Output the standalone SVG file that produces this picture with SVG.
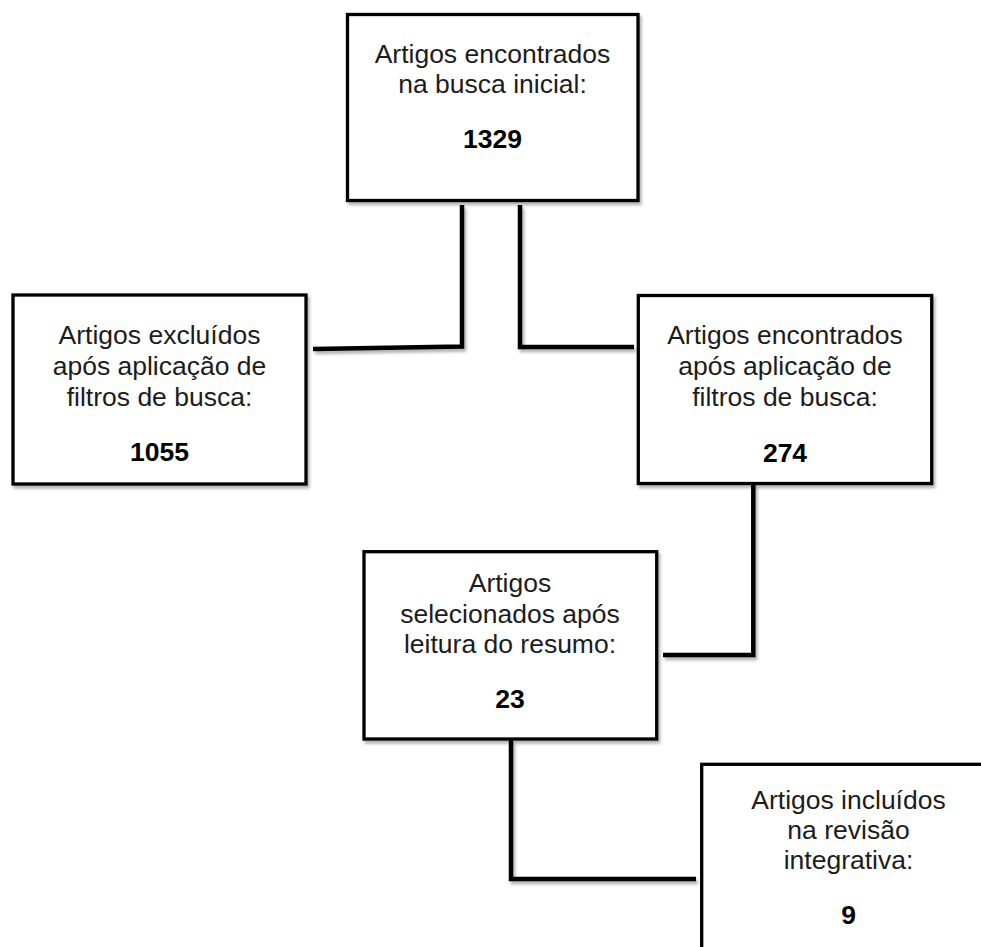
<svg xmlns="http://www.w3.org/2000/svg" width="981" height="947" viewBox="0 0 981 947">
  <defs>
    <filter id="sh" x="-10%" y="-10%" width="130%" height="130%">
      <feDropShadow dx="2" dy="3" stdDeviation="1.8" flood-color="#000" flood-opacity="0.3"/>
    </filter>
    <style>
      .box { fill: #ffffff; stroke: #000; stroke-width: 3.3; filter: url(#sh); }
      .lbl { font-family: "Liberation Sans", Arial, sans-serif; font-size: 26.5px; fill: #1c1c1c; text-anchor: middle; }
      .num { font-family: "Liberation Sans", Arial, sans-serif; font-size: 26.5px; font-weight: bold; fill: #000; text-anchor: middle; }
      .con { fill: none; stroke: #000; stroke-width: 4.5; stroke-linejoin: miter; stroke-linecap: butt; filter: url(#sh); }
    </style>
  </defs>
  <rect width="981" height="947" fill="#ffffff"/>

  <g id="connectors">
    <polyline class="con" points="462,205 462,346.5 313,349"/>
    <polyline class="con" points="520,205 520,347 634,347"/>
    <polyline class="con" points="753.3,484 753.3,655 663,655"/>
    <polyline class="con" points="511,740 511,879 696,879"/>
  </g>

  <g id="n-inicial">
    <rect class="box" x="347.5" y="14.5" width="290.5" height="186"/>
    <text class="lbl" x="492.5" y="63">Artigos encontrados</text>
    <text class="lbl" x="492.5" y="93">na busca inicial:</text>
    <text class="num" x="492.5" y="148">1329</text>
  </g>

  <g id="n-excluidos">
    <rect class="box" x="13" y="295" width="293" height="189"/>
    <text class="lbl" x="159.5" y="343.5">Artigos excluídos</text>
    <text class="lbl" x="159.5" y="374.5">após aplicação de</text>
    <text class="lbl" x="159.5" y="405.5">filtros de busca:</text>
    <text class="num" x="159.5" y="461">1055</text>
  </g>

  <g id="n-filtros">
    <rect class="box" x="638.3" y="295.5" width="293.4" height="188"/>
    <text class="lbl" x="785" y="343.5">Artigos encontrados</text>
    <text class="lbl" x="785" y="374.5">após aplicação de</text>
    <text class="lbl" x="785" y="405.5">filtros de busca:</text>
    <text class="num" x="785" y="461.5">274</text>
  </g>

  <g id="n-resumo">
    <rect class="box" x="364" y="551.7" width="292.7" height="187.3"/>
    <text class="lbl" x="510" y="592">Artigos</text>
    <text class="lbl" x="510" y="622.5">selecionados após</text>
    <text class="lbl" x="510" y="653">leitura do resumo:</text>
    <text class="num" x="510" y="708">23</text>
  </g>

  <g id="n-incluidos">
    <rect class="box" x="701.7" y="764.3" width="293.3" height="188"/>
    <text class="lbl" x="848.5" y="808.5">Artigos incluídos</text>
    <text class="lbl" x="848.5" y="839">na revisão</text>
    <text class="lbl" x="848.5" y="868.5">integrativa:</text>
    <text class="num" x="848.5" y="924">9</text>
  </g>
</svg>
